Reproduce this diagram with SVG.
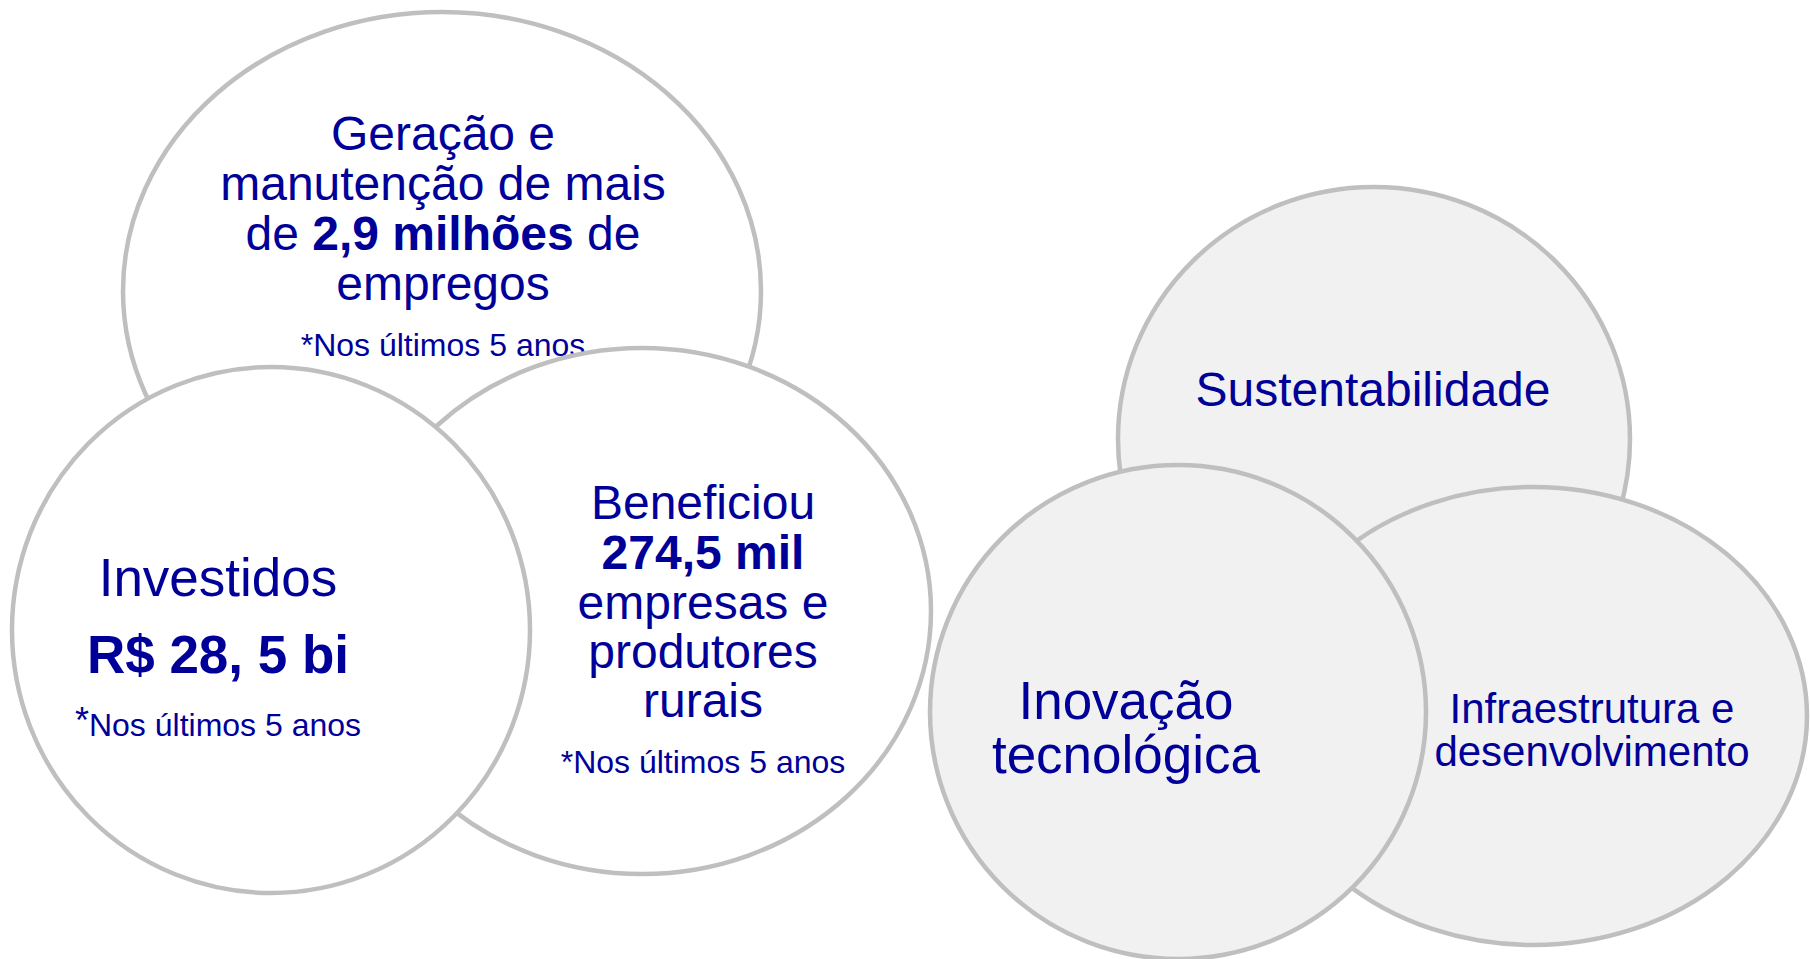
<svg xmlns="http://www.w3.org/2000/svg" width="1810" height="959" viewBox="0 0 1810 959">
<style>
.w{fill:#ffffff;stroke:#bfbfbf;stroke-width:4.5}
.g{fill:#f1f1f1;stroke:#bfbfbf;stroke-width:4.5}
text{font-family:"Liberation Sans",Arial,sans-serif;fill:#000099;text-anchor:middle}
.b{font-weight:bold}
</style>
<rect width="1810" height="959" fill="#ffffff"/>
<g id="connectors"></g>
<g id="geracao">
<ellipse class="w" cx="442" cy="291" rx="319" ry="279"/>
<text font-size="48"><tspan x="443" y="150">Geração e</tspan><tspan x="443" y="200">manutenção de mais</tspan><tspan x="443" y="250">de <tspan class="b">2,9 milhões</tspan> de</tspan><tspan x="443" y="300">empregos</tspan></text>
<text x="443" y="356" font-size="32">*Nos últimos 5 anos</text>
</g>
<g id="beneficiou">
<ellipse class="w" cx="642" cy="611" rx="289" ry="263"/>
<text font-size="48"><tspan x="703" y="519">Beneficiou</tspan><tspan x="703" y="569" class="b">274,5 mil</tspan><tspan x="703" y="619">empresas e</tspan><tspan x="703" y="668">produtores</tspan><tspan x="703" y="717">rurais</tspan></text>
<text x="703" y="773" font-size="32">*Nos últimos 5 anos</text>
</g>
<g id="investidos">
<ellipse class="w" cx="271" cy="630" rx="259" ry="263"/>
<text x="218" y="596" font-size="53">Investidos</text>
<text x="218" y="673" font-size="53" class="b">R$ 28, 5 bi</text>
<text x="218" y="736" font-size="32"><tspan font-size="36" dy="-3">*</tspan><tspan dy="3">Nos últimos 5 anos</tspan></text>
</g>
<g id="sustentabilidade">
<ellipse class="g" cx="1374" cy="439" rx="256" ry="252"/>
<text x="1373" y="406" font-size="48">Sustentabilidade</text>
</g>
<g id="infraestrutura">
<ellipse class="g" cx="1533" cy="716" rx="274" ry="229"/>
<text font-size="42"><tspan x="1592" y="723">Infraestrutura e</tspan><tspan x="1592" y="766">desenvolvimento</tspan></text>
</g>
<g id="inovacao">
<ellipse class="g" cx="1178" cy="712" rx="248" ry="247"/>
<text font-size="53"><tspan x="1126" y="719">Inovação</tspan><tspan x="1126" y="773">tecnológica</tspan></text>
</g>
</svg>
